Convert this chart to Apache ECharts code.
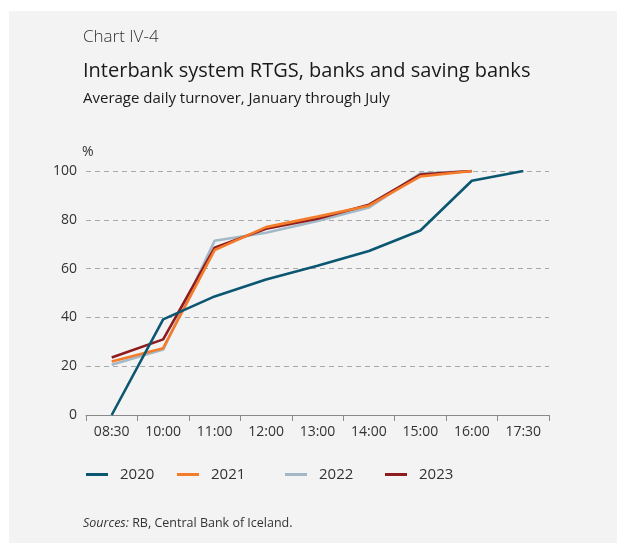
<!DOCTYPE html>
<html>
<head>
<meta charset="utf-8">
<script src="https://cdn.jsdelivr.net/npm/echarts@6/dist/echarts.min.js"></script>
<style>
  html, body { margin: 0; padding: 0; background: #ffffff; }
  #chart { width: 617px; height: 543px; }
</style>
</head>
<body>
<div id="chart"></div>
<script>
// Share of daily turnover settled by each time of day (cumulative, %)
const times = ['08:30', '10:00', '11:00', '12:00', '13:00', '14:00', '15:00', '16:00', '17:30'];
const yTicks = [0, 20, 40, 60, 80, 100];
const years = ['2020', '2021', '2022', '2023'];
const v2020 = [0, 39.2, 48.6, 55.5, 61.2, 67.2, 75.6, 96.0, 100];
const v2021 = [21.9, 27.4, 67.6, 77.0, 81.3, 85.8, 97.8, 100, null];
const v2022 = [20.6, 26.8, 71.4, 74.7, 79.5, 85.0, 99.0, 100, null];
const v2023 = [23.6, 31.0, 68.6, 76.3, 80.4, 86.2, 98.5, 100, null];
const colors = ['#0b5671', '#f47b2a', '#a3b9c8', '#8e1b1e'];

const values = [v2020, v2021, v2022, v2023];
const font = '"Open Sans", "Noto Sans", sans-serif';
const legendX = [86, 177, 285, 385];

const chart = echarts.init(document.getElementById('chart'), null, { renderer: 'canvas' });
chart.setOption({
  animation: false,
  backgroundColor: '#ffffff',
  textStyle: { fontFamily: font },
  graphic: [
    { type: 'rect', z: -10, shape: { x: 9, y: 11, width: 608, height: 532 }, style: { fill: '#f3f3f3' } },
    { type: 'text', left: 83, top: 29, style: { text: 'Chart IV-4', font: '300 17px ' + font, fill: '#333333' } },
    { type: 'text', left: 83, top: 61, style: { text: 'Interbank system RTGS, banks and saving banks', font: '20px ' + font, fill: '#1a1a1a' } },
    { type: 'text', left: 83, top: 91, style: { text: 'Average daily turnover, January through July', font: '15px ' + font, fill: '#1a1a1a' } },
    { type: 'text', left: 82, top: 145, style: { text: '%', font: '14px ' + font, fill: '#333333' } },
    {
      type: 'text', left: 83, top: 517,
      style: {
        text: '{i|Sources:} RB, Central Bank of Iceland.',
        rich: {
          i: { fontStyle: 'italic', fontSize: 12.5, fontFamily: font, fill: '#333333' }
        },
        font: '12.5px ' + font, fill: '#333333'
      }
    }
  ],
  legend: years.map((y, i) => ({
    data: [y],
    left: legendX[i],
    top: 467,
    itemWidth: 22,
    itemHeight: 3,
    itemGap: 12,
    icon: 'rect',
    textStyle: { fontSize: 15, color: '#333333', fontFamily: font, padding: [0, 0, 0, 7] },
    padding: 0
  })),
  grid: { left: 86, right: 68, top: 171, bottom: 128, containLabel: false },
  xAxis: {
    type: 'category',
    data: times,
    boundaryGap: true,
    axisLine: { lineStyle: { color: '#8a8a8a', width: 1 } },
    axisTick: { show: true, length: 6, lineStyle: { color: '#8a8a8a' }, alignWithLabel: false },
    axisLabel: { fontSize: 14, color: '#333333', margin: 10, fontFamily: font }
  },
  yAxis: {
    type: 'value',
    min: 0, max: 100, interval: 20,
    axisLine: { show: false },
    axisTick: { show: false },
    axisLabel: {
      fontSize: 14, color: '#333333', margin: 9, fontFamily: font,
      formatter: (v) => (yTicks.includes(v) ? String(v) : '')
    },
    splitLine: { lineStyle: { color: '#a8a8a8', type: [5, 4], width: 1 } }
  },
  series: years.map((y, i) => ({
    name: y,
    type: 'line',
    data: values[i],
    color: colors[i],
    showSymbol: false,
    symbol: 'none',
    lineStyle: { width: 2.6, color: colors[i] },
    z: [5, 4, 2, 3][i]
  }))
});
</script>
</body>
</html>
